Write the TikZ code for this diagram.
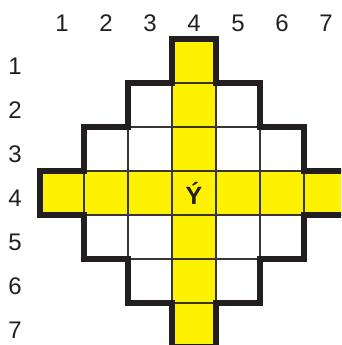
\documentclass[tikz,border=0pt]{standalone}
\usepackage{fontspec}
\setmainfont{Liberation Sans}
\definecolor{ylw}{HTML}{FFF200}
\definecolor{ink}{HTML}{231F20}
\begin{document}
\begin{tikzpicture}[x=1pt,y=-1pt,
  cellbox/.style={draw=ink!90,line width=1.3pt,minimum size=44pt,inner sep=0pt,outer sep=0pt},
  numlabel/.style={inner sep=0pt,font=\fontsize{24}{29}\selectfont,text=ink},
  biglabel/.style={inner sep=0pt,font=\fontsize{25}{30}\selectfont\bfseries,text=ink},
  outline/.style={draw=ink,line width=6pt,line join=miter}]
\useasboundingbox (0,0) rectangle (341,345);
\clip (0,0) rectangle (341,345);
\foreach \r/\a/\b in {1/4/4,2/3/5,3/2/6,4/1/7,5/2/6,6/3/5,7/4/4}{
  \foreach \c in {\a,...,\b}{
    \ifnum\c=4 \def\fc{ylw}\else\ifnum\r=4 \def\fc{ylw}\else\def\fc{white}\fi\fi
    \node[cellbox,fill=\fc] (c\r\c) at ({40+44*(\c-1)+22},{39+44*(\r-1)+22}) {};
  }
}
\node[biglabel] (center) at (c44) {Ý};
\draw[outline] (172,39) -- (216,39) -- (216,83) -- (260,83) -- (260,127) -- (304,127)
  -- (304,171) -- (348,171) -- (348,215) -- (304,215) -- (304,259) -- (260,259)
  -- (260,303) -- (216,303) -- (216,347) -- (172,347) -- (172,303) -- (128,303)
  -- (128,259) -- (84,259) -- (84,215) -- (40,215) -- (40,171) -- (84,171)
  -- (84,127) -- (128,127) -- (128,83) -- (172,83) -- cycle;
\foreach \k in {1,...,7}{
  \node[numlabel] (col\k) at ({62+44*(\k-1)},23) {\k};
  \node[numlabel] (row\k) at (15,{66+44*(\k-1)}) {\k};
}
\end{tikzpicture}
\end{document}
